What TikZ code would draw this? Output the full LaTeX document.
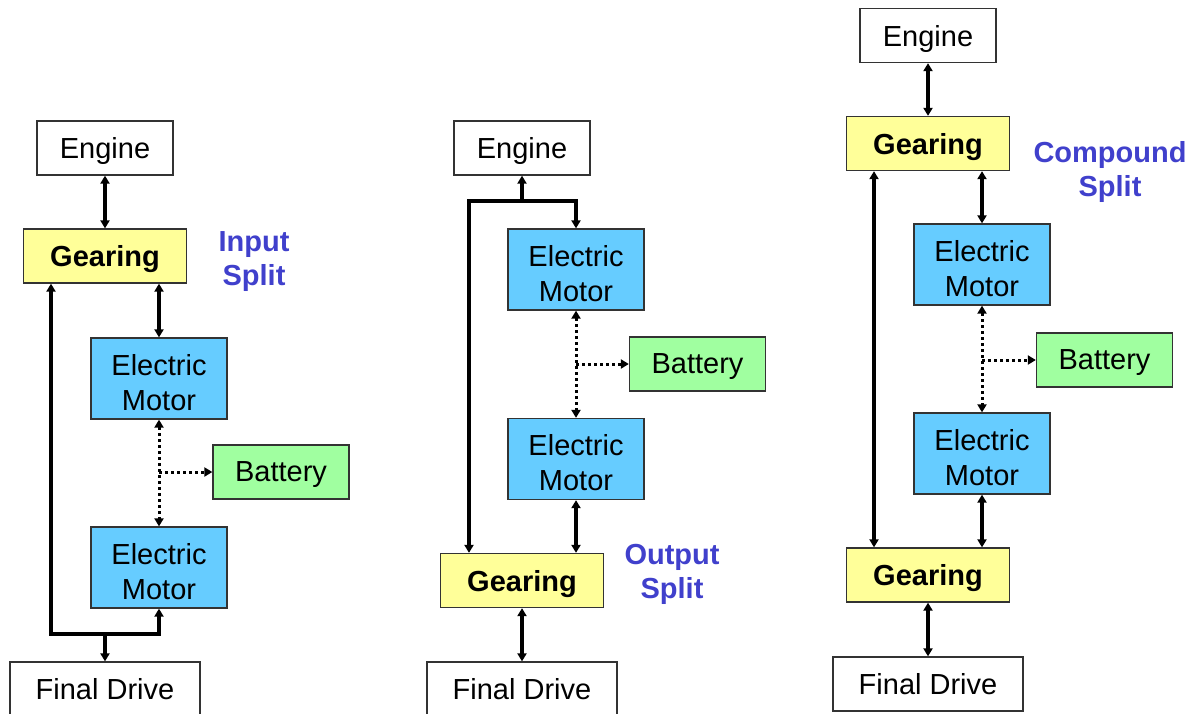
\documentclass[tikz,border=0pt]{standalone}
\usepackage{fontspec}
\setmainfont{Liberation Sans}
\usetikzlibrary{arrows.meta}

\definecolor{gearfill}{HTML}{FFFF99}
\definecolor{motfill}{HTML}{66CCFF}
\definecolor{batfill}{HTML}{A0FFA0}
\definecolor{splitcol}{HTML}{4040CC}

\tikzset{
  blk/.style={draw=black!80, line width=1.3pt, inner sep=0pt, align=center,
    minimum height=54pt, font=\fontsize{29}{35}\selectfont},
  engbox/.style={blk, fill=white, minimum width=136pt, text depth=0pt},
  gearbox/.style={blk, fill=gearfill, minimum width=163pt, text depth=0pt,
    font=\fontsize{29}{35}\selectfont\bfseries},
  motbox/.style={blk, fill=motfill, minimum width=136pt, minimum height=81pt},
  batbox/.style={blk, fill=batfill, minimum width=136pt, text depth=0pt},
  drvbox/.style={blk, fill=white, minimum width=190pt, text depth=0pt},
  splitlbl/.style={align=center, text=splitcol, font=\fontsize{29}{34}\selectfont\bfseries},
  tip/.tip={Triangle[length=8pt,width=9pt]},
  link/.style={line width=3.2pt, tip-tip},
  one/.style={line width=3.2pt, -tip},
  dotlink/.style={line width=3pt, dash pattern=on 3pt off 3pt, tip-tip},
  dotone/.style={line width=3pt, dash pattern=on 3pt off 3pt, -tip}
}

\begin{document}
\begin{tikzpicture}[x=1pt,y=-1pt]
  \useasboundingbox (0,0) rectangle (1190,713);

  % input split
  \node[engbox] (eng1) at (105,148) {Engine};
  \node[gearbox] (gear1) at (105,256) {Gearing};
  \node[motbox] (mota1) at (159,378.5) {\rule{0pt}{29pt}Electric\\Motor};
  \node[batbox] (bat1) at (281,472) {Battery};
  \node[motbox] (motb1) at (159,567.5) {\rule{0pt}{29pt}Electric\\Motor};
  \node[drvbox] (drv1) at (105,689) {Final Drive};
  \node[splitlbl] (lbl1) at (254,262) {Input\\Split};
  \coordinate (t1) at (51,634);
  \coordinate (j1) at (105,634);
  \draw[link] (eng1) -- (gear1);
  \draw[link] (mota1.north) -- (mota1.north |- gear1.south);
  \draw[dotlink] (mota1) -- (motb1);
  \coordinate (d1) at (mota1 |- bat1);
  \draw[dotone] (d1) -- (bat1);
  \draw[link] (gear1.south -| t1) -- (t1) -| (motb1.south);
  \draw[one] (j1) -- (drv1);

  % output split
  \node[engbox] (eng2) at (522,148) {Engine};
  \node[motbox] (mota2) at (576,269.5) {\rule{0pt}{29pt}Electric\\Motor};
  \node[batbox] (bat2) at (697.5,364) {Battery};
  \node[motbox] (motb2) at (576,459) {\rule{0pt}{29pt}Electric\\Motor};
  \node[gearbox] (gear2) at (522,580.5) {Gearing};
  \node[drvbox] (drv2) at (522,689) {Final Drive};
  \node[splitlbl] (lbl2) at (672,574) {Output\\Split};
  \coordinate (t2) at (469,201);
  \coordinate (j2) at (522,201);
  \draw[link] (t2 |- gear2.north) -- (t2) -| (mota2.north);
  \draw[one] (j2) -- (eng2);
  \draw[dotlink] (mota2) -- (motb2);
  \coordinate (d2) at (mota2 |- bat2);
  \draw[dotone] (d2) -- (bat2);
  \draw[link] (motb2.south) -- (motb2.south |- gear2.north);
  \draw[link] (gear2) -- (drv2);

  % compound split
  \node[engbox] (eng3) at (928,35.5) {Engine};
  \node[gearbox] (gear3a) at (928,143.5) {Gearing};
  \node[motbox] (mota3) at (982,264.5) {\rule{0pt}{29pt}Electric\\Motor};
  \node[batbox] (bat3) at (1104.5,360) {Battery};
  \node[motbox] (motb3) at (982,453.5) {\rule{0pt}{29pt}Electric\\Motor};
  \node[gearbox] (gear3b) at (928,575) {Gearing};
  \node[drvbox] (drv3) at (928,684) {Final Drive};
  \node[splitlbl] (lbl3) at (1110,172) {Compound\\Split};
  \coordinate (t3) at (874,360);
  \draw[link] (eng3) -- (gear3a);
  \draw[link] (mota3.north) -- (mota3.north |- gear3a.south);
  \draw[dotlink] (mota3) -- (motb3);
  \coordinate (d3) at (mota3 |- bat3);
  \draw[dotone] (d3) -- (bat3);
  \draw[link] (motb3.south) -- (motb3.south |- gear3b.north);
  \draw[link] (t3 |- gear3a.south) -- (t3 |- gear3b.north);
  \draw[link] (gear3b) -- (drv3);
\end{tikzpicture}
\end{document}
